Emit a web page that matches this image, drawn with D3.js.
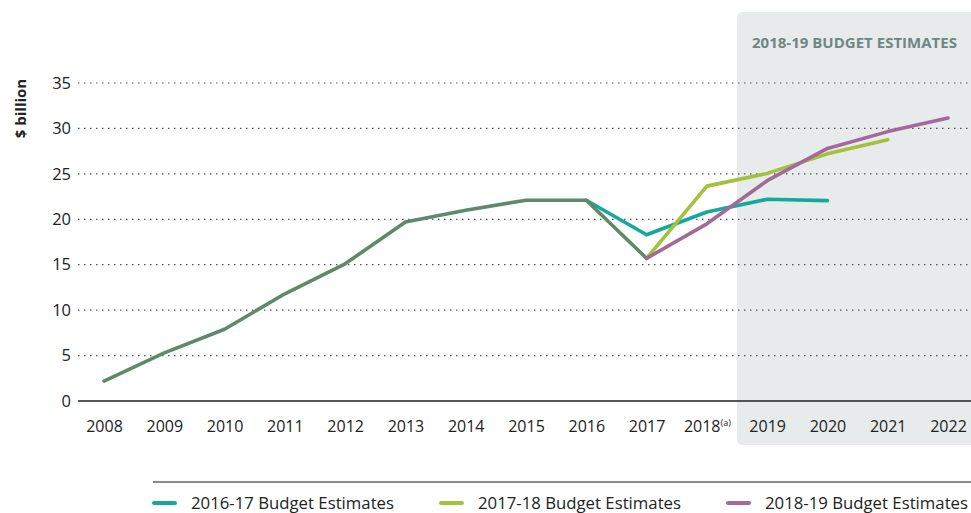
<!DOCTYPE html>
<html><head><meta charset="utf-8">
<script src="https://cdn.jsdelivr.net/npm/d3@7"></script>
<style>body{margin:0;background:#fff;} text{font-family:"Open Sans",sans-serif;}</style>
</head><body>
<svg id="c" width="971" height="513"></svg>
<script>
const years = [2008,2009,2010,2011,2012,2013,2014,2015,2016,2017,2018,2019,2020,2021,2022];
const yTicks = [0,5,10,15,20,25,30,35];
const historic = [[2008,2.2],[2009,5.3],[2010,7.9],[2011,11.8],[2012,15.1],[2013,19.7],[2014,21.0],[2015,22.1],[2016,22.1],[2017,15.7]];
const be1617 = [[2016,22.1],[2017,18.3],[2018,20.8],[2019,22.2],[2020,22.05]];
const be1718 = [[2017,15.7],[2018,23.65],[2019,25.05],[2020,27.2],[2021,28.75]];
const be1819 = [[2017,15.7],[2018,19.5],[2019,24.25],[2020,27.8],[2021,29.65],[2022,31.15]];
const seriesNames = ["2016-17 Budget Estimates","2017-18 Budget Estimates","2018-19 Budget Estimates"];
const colors = {hist:"#5e8a6c", s1:"#15a89c", s2:"#a3c23b", s3:"#a5689b"};

const svg = d3.select("#c");
const x = d3.scaleLinear().domain([2008,2022]).range([104,948]);
const y = d3.scaleLinear().domain([0,35]).range([401,83]);

// shaded forecast region
const sx0 = 737, sy0 = 12, sx1 = 975, sy1 = 445, r = 6;
svg.append("path").attr("fill","#e7ebeb")
  .attr("d",`M${sx0+r},${sy0} H${sx1} V${sy1} H${sx0+r} Q${sx0},${sy1} ${sx0},${sy1-r} V${sy0+r} Q${sx0},${sy0} ${sx0+r},${sy0} Z`);
svg.append("text").attr("x",854.5).attr("y",48).attr("text-anchor","middle")
  .attr("font-family","'Open Sans Condensed','Liberation Sans Narrow','Roboto Condensed',sans-serif")
  .attr("font-weight","bold").attr("font-size",15).attr("fill","#6f8784")
  .attr("textLength",205).attr("lengthAdjust","spacingAndGlyphs")
  .text("2018-19 BUDGET ESTIMATES");

// gridlines
svg.append("g").selectAll("line").data(yTicks.filter(d=>d>0)).join("line")
  .attr("x1",78).attr("x2",971).attr("y1",d=>y(d)).attr("y2",d=>y(d))
  .attr("stroke","#555").attr("stroke-width",1.2).attr("stroke-dasharray","1.5,4.5");
svg.append("line").attr("x1",78).attr("x2",971).attr("y1",y(0)).attr("y2",y(0))
  .attr("stroke","#222").attr("stroke-width",1.5);

// y axis labels
const yAxis = d3.axisLeft(y).tickValues(yTicks).tickSize(0).tickPadding(0);
const ga = svg.append("g").attr("transform","translate(71,0)").call(yAxis);
ga.select(".domain").remove();
ga.selectAll("text").attr("font-size",16.5).attr("fill","#222").attr("font-family","'Open Sans',sans-serif");

svg.append("text").attr("transform","translate(26,108.5) rotate(-90)").attr("text-anchor","middle")
  .attr("font-weight","bold").attr("font-size",15).attr("fill","#222").text("$ billion");

// x axis labels
const xAxis = d3.axisBottom(x).tickValues(years).tickSize(0).tickPadding(0).tickFormat(d=>d);
const gx = svg.append("g").attr("transform",`translate(0,432)`).call(xAxis);
gx.select(".domain").remove();
gx.selectAll("text").attr("font-size",16).attr("fill","#222").attr("font-family","'Open Sans',sans-serif")
  .attr("dy",0).attr("y",0)
  .each(function(d){ if(d===2018){ const t=d3.select(this); t.text(""); t.append("tspan").text("2018"); t.append("tspan").attr("font-size",9).attr("dy",-6).text("(a)"); } });

// lines
const line = d3.line().x(d=>x(d[0])).y(d=>y(d[1]));
const draw = (data,c)=>svg.append("path").datum(data).attr("d",line).attr("fill","none")
  .attr("stroke",c).attr("stroke-width",3.6).attr("stroke-linejoin","round").attr("stroke-linecap","round");
draw(be1617,colors.s1);
draw(be1718,colors.s2);
draw(historic,colors.hist);
draw(be1819,colors.s3);

// legend
svg.append("line").attr("x1",153).attr("x2",971).attr("y1",482).attr("y2",482).attr("stroke","#8a8a8a").attr("stroke-width",2);
const legX = [152,439,726];
const legC = [colors.s1,colors.s2,colors.s3];
seriesNames.forEach((n,i)=>{
  svg.append("line").attr("x1",legX[i]+2).attr("x2",legX[i]+23).attr("y1",503).attr("y2",503)
    .attr("stroke",legC[i]).attr("stroke-width",4).attr("stroke-linecap","round");
  svg.append("text").attr("x",legX[i]+39).attr("y",509).attr("font-size",15.5).attr("fill","#222")
    .attr("textLength",203).attr("lengthAdjust","spacingAndGlyphs").text(n);
});
</script>
</body></html>
